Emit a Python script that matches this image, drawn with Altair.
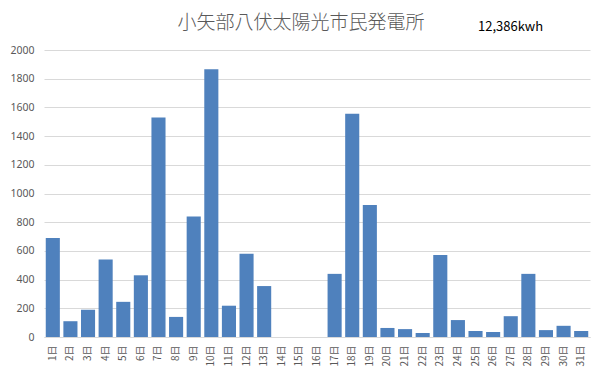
import altair as alt
import pandas as pd

days = [f"{i}日" for i in range(1, 32)]
kwh = [690, 110, 190, 540, 245, 430, 1530, 140, 840, 1865, 218, 580, 355,
       0, 0, 0, 440, 1555, 920, 63, 55, 28, 572, 118, 42, 35, 145, 440, 48, 78, 42]
title_text = "小矢部八伏太陽光市民発電所"
total_text = "12,386kwh"
y_ticks = list(range(0, 2001, 200))

df = pd.DataFrame({"day": days, "kwh": kwh})

bars = alt.Chart(df).mark_bar(color="#4F81BD").encode(
    x=alt.X("day:N", sort=days, title=None,
            scale=alt.Scale(paddingInner=0.2, paddingOuter=0.1),
            axis=alt.Axis(labelAngle=270, labelFontSize=10, labelColor="#595959",
                          labelFont="Noto Sans CJK JP", ticks=False,
                          domainColor="#d9d9d9", labelPadding=8)),
    y=alt.Y("kwh:Q", title=None,
            scale=alt.Scale(domain=[0, 2000], nice=False),
            axis=alt.Axis(values=y_ticks, format="d", domain=False, ticks=False,
                          gridColor="#d9d9d9", labelColor="#595959",
                          labelFontSize=10.5, labelFont="Noto Sans", labelPadding=10)),
)

title = alt.Chart(pd.DataFrame({"t": [title_text]})).mark_text(
    align="center", baseline="middle", fontSize=19, color="#595959",
    font="Noto Sans CJK JP", fontWeight=300
).encode(text="t:N", x=alt.value(257), y=alt.value(-27))

total = alt.Chart(pd.DataFrame({"t": [total_text]})).mark_text(
    align="left", baseline="middle", fontSize=13, color="#000000",
    font="Noto Sans CJK JP"
).encode(text="t:N", x=alt.value(434), y=alt.value(-23))

chart = alt.layer(bars, title, total).properties(
    width=546, height=287,
    autosize=alt.AutoSizeParams(type="none"),
    padding={"left": 36, "top": 42, "right": 7, "bottom": 30},
).configure_view(stroke=None)

chart.save("out.html", embed_options={"renderer": "svg", "actions": False})
